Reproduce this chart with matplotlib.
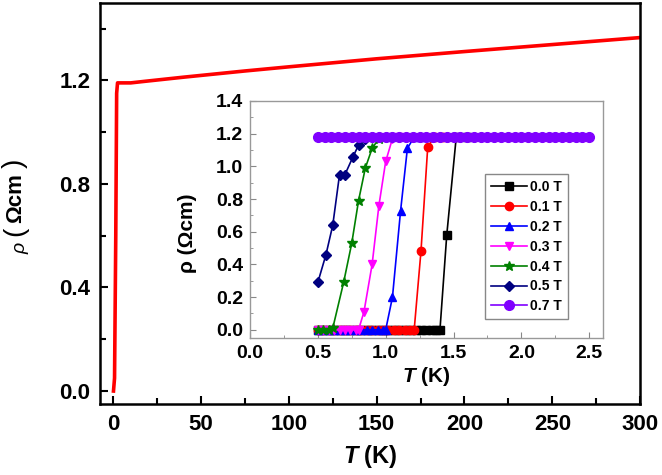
import matplotlib
matplotlib.use('Agg')
import matplotlib.pyplot as plt
from matplotlib.ticker import MultipleLocator

plt.rcParams['font.family'] = ['Liberation Sans', 'DejaVu Sans']
plt.rcParams['font.weight'] = 'bold'
plt.rcParams['mathtext.fontset'] = 'custom'
plt.rcParams['mathtext.rm'] = 'Liberation Sans:bold'
plt.rcParams['mathtext.it'] = 'Liberation Sans:italic:bold'
plt.rcParams['mathtext.bf'] = 'Liberation Sans:bold'

# main curve, rho(T) from 0 to 300 K
main_T = [0.2, 0.8, 1.5, 2.0, 2.5, 10, 18, 40, 75, 100, 150, 200, 250, 300]
main_rho = [0.0, 0.05, 0.60, 1.15, 1.19, 1.19, 1.196, 1.212, 1.236, 1.252, 1.283, 1.311, 1.338, 1.365]

# inset: low-temperature transitions for several fields
fields = ['0.0 T', '0.1 T', '0.2 T', '0.3 T', '0.4 T', '0.5 T', '0.7 T']
colors = ['#000000', '#ff0000', '#0000ff', '#ff00ff', '#008000', '#000080', '#8000ff']
markers = ['s', 'o', '^', 'v', '*', 'D', 'o']

T_00 = [0.50, 0.54, 0.58, 0.62, 0.66, 0.70, 0.74, 0.78, 0.82, 0.86, 0.90, 0.94, 0.98,
        1.02, 1.06, 1.10, 1.14, 1.18, 1.22, 1.26, 1.30, 1.34, 1.37, 1.40, 1.45, 1.52, 1.60]
rho_00 = [0.0, 0.0, 0.0, 0.0, 0.0, 0.0, 0.0, 0.0, 0.0, 0.0, 0.0, 0.0, 0.0,
          0.0, 0.0, 0.0, 0.0, 0.0, 0.0, 0.0, 0.0, 0.0, 0.0, 0.0, 0.58, 1.18, 1.18]

T_01 = [0.50, 0.54, 0.58, 0.62, 0.66, 0.70, 0.74, 0.78, 0.82, 0.86, 0.90, 0.94, 0.98,
        1.02, 1.06, 1.10, 1.14, 1.18, 1.21, 1.26, 1.31, 1.36, 1.42]
rho_01 = [0.0, 0.0, 0.0, 0.0, 0.0, 0.0, 0.0, 0.0, 0.0, 0.0, 0.0, 0.0, 0.0,
          0.0, 0.0, 0.0, 0.0, 0.0, 0.0, 0.48, 1.12, 1.18, 1.18]

T_02 = [0.50, 0.54, 0.58, 0.62, 0.66, 0.70, 0.74, 0.78, 0.82, 0.86, 0.90, 0.94, 0.98,
        1.00, 1.05, 1.11, 1.16, 1.21, 1.26]
rho_02 = [0.0, 0.0, 0.0, 0.0, 0.0, 0.0, 0.0, 0.0, 0.0, 0.0, 0.0, 0.0, 0.0,
          0.0, 0.20, 0.73, 1.11, 1.18, 1.18]

T_03 = [0.50, 0.54, 0.58, 0.62, 0.66, 0.70, 0.74, 0.78, 0.80, 0.84, 0.90, 0.95, 1.00, 1.05, 1.10]
rho_03 = [0.0, 0.0, 0.0, 0.0, 0.0, 0.0, 0.0, 0.0, 0.0, 0.11, 0.40, 0.76, 1.03, 1.17, 1.18]

T_04 = [0.50, 0.54, 0.58, 0.61, 0.69, 0.75, 0.80, 0.85, 0.90, 0.95, 1.00]
rho_04 = [0.0, 0.0, 0.0, 0.01, 0.29, 0.53, 0.79, 0.99, 1.11, 1.17, 1.18]

T_05 = [0.50, 0.56, 0.61, 0.66, 0.70, 0.76, 0.80, 0.85, 0.90]
rho_05 = [0.29, 0.46, 0.64, 0.95, 0.95, 1.06, 1.13, 1.17, 1.18]

T_07 = [0.50, 0.55, 0.60, 0.65, 0.70, 0.75, 0.80, 0.85, 0.90, 0.95, 1.00, 1.05, 1.10, 1.15,
        1.20, 1.25, 1.30, 1.35, 1.40, 1.45, 1.50, 1.55, 1.60, 1.65, 1.70, 1.75, 1.80, 1.85,
        1.90, 1.95, 2.00, 2.05, 2.10, 2.15, 2.20, 2.25, 2.30, 2.35, 2.40, 2.45, 2.50]
rho_07 = [1.18, 1.18, 1.18, 1.18, 1.18, 1.18, 1.18, 1.18, 1.18, 1.18, 1.18, 1.18, 1.18, 1.18,
          1.18, 1.18, 1.18, 1.18, 1.18, 1.18, 1.18, 1.18, 1.18, 1.18, 1.18, 1.18, 1.18, 1.18,
          1.18, 1.18, 1.18, 1.18, 1.18, 1.18, 1.18, 1.18, 1.18, 1.18, 1.18, 1.18, 1.18]

inset_T = [T_00, T_01, T_02, T_03, T_04, T_05, T_07]
inset_rho = [rho_00, rho_01, rho_02, rho_03, rho_04, rho_05, rho_07]
marker_sizes = [5.5, 6, 6, 6, 7.5, 5.5, 7]

fig = plt.figure(figsize=(6.62, 4.75), dpi=100)
ax = fig.add_axes([0.151, 0.1495, 0.816, 0.845])

ax.plot(main_T, main_rho, color='#ff0000', lw=2.6)
ax.set_xlim(-7.5, 300)
ax.set_ylim(-0.05, 1.5)
ax.xaxis.set_major_locator(MultipleLocator(50))
ax.xaxis.set_minor_locator(MultipleLocator(25))
ax.yaxis.set_major_locator(MultipleLocator(0.4))
ax.yaxis.set_minor_locator(MultipleLocator(0.2))
ax.tick_params(which='both', direction='in', width=1.5, labelsize=16, pad=7)
ax.tick_params(which='major', length=6)
ax.tick_params(which='minor', length=4)
ax.set_yticks([0.0, 0.4, 0.8, 1.2])
ax.set_yticklabels(['0.0', '0.4', '0.8', '1.2'])
for lab in ax.get_xticklabels() + ax.get_yticklabels():
    lab.set_fontweight('bold')
for s in ax.spines.values():
    s.set_linewidth(1.8)
ax.set_xlabel(r'$\mathit{T}$ (K)', fontsize=17, fontweight='bold', labelpad=6)

# main y label: small rho, tall brackets round the unit
fig.text(0.031, 0.478, '\u03c1', rotation=90, fontsize=14, fontstyle='italic',
         fontweight='normal', ha='center', va='center')
fig.text(0.023, 0.514, '(', rotation=90, fontsize=20, fontweight='normal',
         ha='center', va='center')
fig.text(0.024, 0.583, '\u03a9cm', rotation=90, fontsize=16, fontweight='bold',
         ha='center', va='center')
fig.text(0.023, 0.657, ')', rotation=90, fontsize=20, fontweight='normal',
         ha='center', va='center')

# inset
axi = fig.add_axes([0.3776, 0.2884, 0.533, 0.499])
for i in range(len(fields)):
    axi.plot(inset_T[i], inset_rho[i], color=colors[i], marker=markers[i],
             ms=marker_sizes[i], lw=1.2, label=fields[i])
axi.set_xlim(0, 2.6)
axi.set_ylim(-0.05, 1.4)
axi.xaxis.set_major_locator(MultipleLocator(0.5))
axi.xaxis.set_minor_locator(MultipleLocator(0.25))
axi.yaxis.set_major_locator(MultipleLocator(0.2))
axi.yaxis.set_minor_locator(MultipleLocator(0.1))
axi.tick_params(which='both', direction='in', color='#888888', labelsize=14, pad=5)
axi.tick_params(which='major', length=4)
axi.tick_params(which='minor', length=2)
for lab in axi.get_xticklabels() + axi.get_yticklabels():
    lab.set_fontweight('bold')
for s in axi.spines.values():
    s.set_color('#999999')
    s.set_linewidth(1.0)
axi.set_xlabel(r'$\mathit{T}$ (K)', fontsize=15, fontweight='bold', labelpad=2)
axi.set_ylabel('\u03c1 (\u03a9cm)', fontsize=15, fontweight='bold')
axi.yaxis.set_label_coords(-0.15, 0.443)

leg = axi.legend(loc='upper left', bbox_to_anchor=(0.666, 0.692), borderaxespad=0,
                 fontsize=10, handlelength=2.6, labelspacing=0.42, handletextpad=0.2,
                 fancybox=False, edgecolor='#888888', framealpha=1, borderpad=0.45)
leg.get_frame().set_linewidth(1.0)
for t in leg.get_texts():
    t.set_fontweight('bold')

fig.savefig('out.png', dpi=100)
